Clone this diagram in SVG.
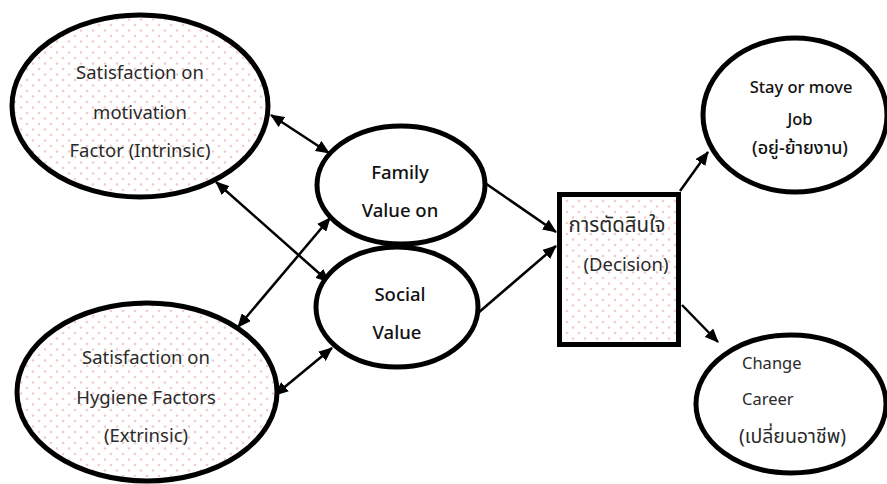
<svg xmlns="http://www.w3.org/2000/svg" width="887" height="484" viewBox="0 0 887 484">
  <style>
    .shape { stroke: #000; stroke-width: 5; }
    .dotted { fill: url(#dots); }
    .plain { fill: #fff; }
    .t { font-family: "Noto Sans", "Open Sans", "Noto Sans Thai", sans-serif; font-size: 18.5px; fill: #2a2a2a; text-anchor: middle; }
    .b { font-weight: 500; fill: #111; }
    .s { font-size: 16.5px; }
    .l { text-anchor: start; }
    .link { stroke: #000; stroke-width: 2.5; fill: none; }
  </style>
  <defs>
    <pattern id="dots" width="12" height="11" patternUnits="userSpaceOnUse">
      <rect width="12" height="11" fill="#fff"/>
      <circle cx="3" cy="3" r="1.3" fill="#f3cbcb"/>
      <circle cx="9" cy="8.5" r="1.3" fill="#f3cbcb"/>
    </pattern>
    <marker id="arrow" viewBox="0 0 14 12" refX="13" refY="6" markerWidth="14" markerHeight="12" markerUnits="userSpaceOnUse" orient="auto-start-reverse">
      <path d="M0,0 L14,6 L0,12 z" fill="#000"/>
    </marker>
  </defs>

  <rect width="887" height="484" fill="#fff"/>

  <!-- connectors -->
  <g id="connectors">
    <line class="link" x1="271" y1="115" x2="329" y2="153" marker-start="url(#arrow)" marker-end="url(#arrow)"/>
    <line class="link" x1="216" y1="182" x2="329" y2="282" marker-start="url(#arrow)" marker-end="url(#arrow)"/>
    <line class="link" x1="238" y1="327" x2="330" y2="218" marker-start="url(#arrow)" marker-end="url(#arrow)"/>
    <line class="link" x1="275" y1="395" x2="332" y2="348" marker-start="url(#arrow)" marker-end="url(#arrow)"/>
    <line class="link" x1="485" y1="183" x2="556" y2="232" marker-end="url(#arrow)"/>
    <line class="link" x1="478" y1="313" x2="556" y2="246" marker-end="url(#arrow)"/>
    <line class="link" x1="680" y1="191" x2="708" y2="152" marker-end="url(#arrow)"/>
    <line class="link" x1="682" y1="305" x2="718" y2="342" marker-end="url(#arrow)"/>
  </g>

  <!-- intrinsic satisfaction -->
  <g id="intrinsic">
    <ellipse class="shape dotted" cx="140" cy="106" rx="128" ry="91"/>
    <text class="t" x="140" y="79">Satisfaction on</text>
    <text class="t" x="140" y="119">motivation</text>
    <text class="t" x="140" y="157">Factor (Intrinsic)</text>
  </g>

  <!-- extrinsic satisfaction -->
  <g id="extrinsic">
    <ellipse class="shape dotted" cx="147" cy="392" rx="130" ry="89"/>
    <text class="t" x="146" y="364">Satisfaction on</text>
    <text class="t" x="146" y="404">Hygiene Factors</text>
    <text class="t" x="146" y="442">(Extrinsic)</text>
  </g>

  <!-- family value -->
  <g id="family">
    <ellipse class="shape plain" cx="401" cy="185" rx="84" ry="59"/>
    <text class="t b" x="400" y="179">Family</text>
    <text class="t b" x="400" y="217">Value on</text>
  </g>

  <!-- social value -->
  <g id="social">
    <ellipse class="shape plain" cx="397" cy="307" rx="81" ry="60"/>
    <text class="t b" x="400" y="301">Social</text>
    <text class="t b" x="397" y="339">Value</text>
  </g>

  <!-- decision -->
  <g id="decision">
    <rect class="shape dotted" x="559.5" y="194.5" width="119" height="150"/>
    <text class="t" x="617" y="232" style="font-size:20.5px">การตัดสินใจ</text>
    <text class="t" x="626" y="271">(Decision)</text>
  </g>

  <!-- stay or move -->
  <g id="stay">
    <ellipse class="shape plain" cx="795" cy="115" rx="92" ry="77"/>
    <text class="t b s" x="801" y="93">Stay or move</text>
    <text class="t b s" x="800" y="125">Job</text>
    <text class="t b s" x="800" y="154" style="font-size:18px">(อยู่-ย้ายงาน)</text>
  </g>

  <!-- change career -->
  <g id="change">
    <ellipse class="shape plain" cx="791" cy="404" rx="95" ry="69"/>
    <text class="t s l" x="742" y="369">Change</text>
    <text class="t s l" x="742" y="405">Career</text>
    <text class="t s l" x="739" y="443" style="font-size:19.5px">(เปลี่ยนอาชีพ)</text>
  </g>
</svg>
